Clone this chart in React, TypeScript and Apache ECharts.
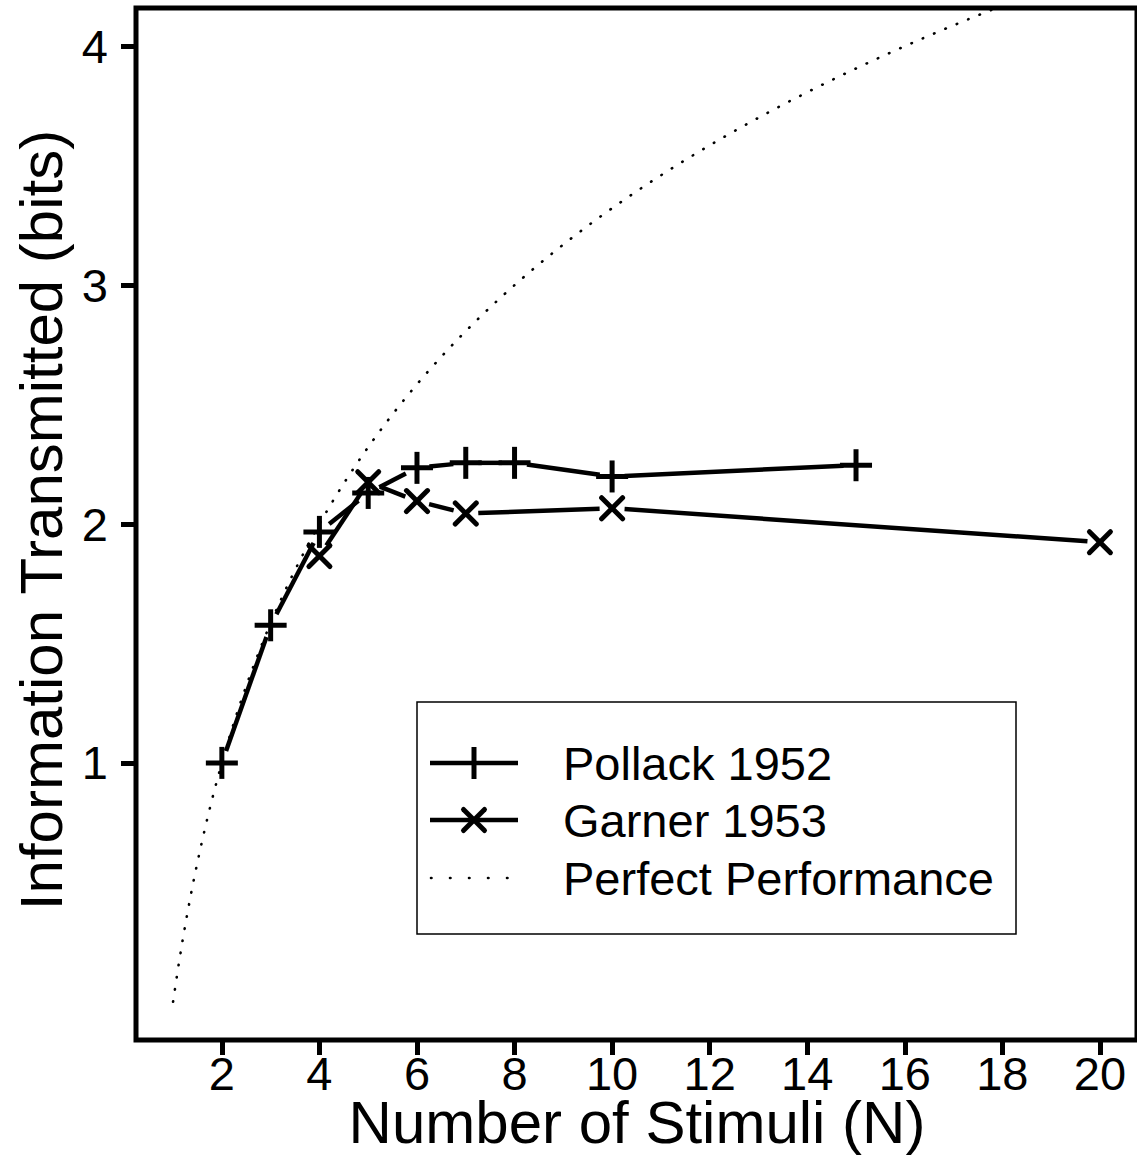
import React, { useEffect, useRef } from "react";
import * as echarts from "echarts";

// ---- Data ----
const N_POLLACK = [2, 3, 4, 5, 6, 7, 8, 10, 15];
const BITS_POLLACK = [1.0, 1.576, 1.967, 2.13, 2.235, 2.256, 2.256, 2.199, 2.246];
const N_GARNER = [4, 5, 6, 7, 10, 20];
const BITS_GARNER = [1.866, 2.175, 2.096, 2.044, 2.066, 1.924];
const X_TICKS = [2, 4, 6, 8, 10, 12, 14, 16, 18, 20];
const Y_TICKS = [1, 2, 3, 4];
// Perfect performance: log2(N), the theoretical reference curve, sampled on N from 1 to 20
const PERFECT_N = Array.from({ length: 191 }, (_, i) => 1 + i * 0.1);

const LEGEND_LABELS = ["Pollack 1952", "Garner 1953", "Perfect Performance"];

const FONT = "'Liberation Sans', Arial, Helvetica, sans-serif";
const GAP = 12.5;
const LW = 4.5;

function segments(xs: number[], ys: number[]) {
  const out: number[][] = [];
  for (let i = 0; i < xs.length - 1; i++) out.push([xs[i], ys[i], xs[i + 1], ys[i + 1]]);
  return out;
}

function segRender(params: any, api: any) {
  const p1 = api.coord([api.value(0), api.value(1)]);
  const p2 = api.coord([api.value(2), api.value(3)]);
  const dx = p2[0] - p1[0];
  const dy = p2[1] - p1[1];
  const L = Math.hypot(dx, dy);
  if (L <= 2 * GAP) return null;
  const ux = dx / L;
  const uy = dy / L;
  return {
    type: "line",
    shape: { x1: p1[0] + ux * GAP, y1: p1[1] + uy * GAP, x2: p2[0] - ux * GAP, y2: p2[1] - uy * GAP },
    style: { stroke: "#000", lineWidth: LW, lineCap: "butt" },
  };
}

function plusRender(params: any, api: any) {
  const p = api.coord([api.value(0), api.value(1)]);
  const h = 16;
  const st = { stroke: "#000", lineWidth: LW + 0.5, lineCap: "butt" };
  return {
    type: "group",
    children: [
      { type: "line", shape: { x1: p[0] - h, y1: p[1], x2: p[0] + h, y2: p[1] }, style: st },
      { type: "line", shape: { x1: p[0], y1: p[1] - h, x2: p[0], y2: p[1] + h }, style: st },
    ],
  };
}

function crossRender(params: any, api: any) {
  const p = api.coord([api.value(0), api.value(1)]);
  const h = 10.5;
  const st = { stroke: "#000", lineWidth: LW + 0.5, lineCap: "round" };
  return {
    type: "group",
    children: [
      { type: "line", shape: { x1: p[0] - h, y1: p[1] - h, x2: p[0] + h, y2: p[1] + h }, style: st },
      { type: "line", shape: { x1: p[0] - h, y1: p[1] + h, x2: p[0] + h, y2: p[1] - h }, style: st },
    ],
  };
}

export default function App() {
  const ref = useRef<HTMLDivElement>(null);

  useEffect(() => {
    document.body.style.margin = "0";
    if (!ref.current) return;
    const chart = echarts.init(ref.current, null, { renderer: "svg" });

    const legX0 = 417;
    const legY0 = 702;
    const rowY = [763, 820, 878];
    const symX1 = 430;
    const symX2 = 518;
    const symC = 474;
    const ls = { stroke: "#000", lineWidth: LW };

    const option: any = {
      animation: false,
      backgroundColor: "#fff",
      grid: {
        left: 136,
        top: 8,
        width: 1002,
        height: 1032,
        show: true,
        borderColor: "#000",
        borderWidth: 5,
        backgroundColor: "transparent",
      },
      xAxis: {
        type: "value",
        min: 0.24,
        max: 20.76,
        position: "bottom",
        axisLine: { show: false, onZero: false },
        splitLine: { show: false },
        axisTick: {
          show: true,
          customValues: X_TICKS,
          length: 15,
          lineStyle: { color: "#000", width: 5 },
        },
        axisLabel: {
          customValues: X_TICKS,
          fontSize: 47,
          color: "#000",
          fontFamily: FONT,
          margin: 10,
        },
      },
      yAxis: {
        type: "value",
        min: -0.16,
        max: 4.16,
        position: "left",
        axisLine: { show: false, onZero: false },
        splitLine: { show: false },
        axisTick: {
          show: true,
          customValues: Y_TICKS,
          length: 15,
          lineStyle: { color: "#000", width: 5 },
        },
        axisLabel: {
          customValues: Y_TICKS,
          fontSize: 47,
          color: "#000",
          fontFamily: FONT,
          margin: 28,
        },
      },
      series: [
        {
          name: "Perfect Performance",
          type: "line",
          data: PERFECT_N.map((n) => [n, Math.log2(n)]),
          showSymbol: false,
          symbol: "none",
          clip: true,
          lineStyle: { color: "#000", width: 2.6, type: [0.5, 11.8], cap: "round" },
          z: 1,
        },
        {
          name: "Pollack 1952 lines",
          type: "custom",
          data: segments(N_POLLACK, BITS_POLLACK),
          encode: { x: [0, 2], y: [1, 3] },
          renderItem: segRender,
          clip: true,
          z: 2,
        },
        {
          name: "Garner 1953 lines",
          type: "custom",
          data: segments(N_GARNER, BITS_GARNER),
          encode: { x: [0, 2], y: [1, 3] },
          renderItem: segRender,
          clip: true,
          z: 2,
        },
        {
          name: "Pollack 1952",
          type: "custom",
          data: N_POLLACK.map((n, i) => [n, BITS_POLLACK[i]]),
          encode: { x: 0, y: 1 },
          renderItem: plusRender,
          z: 3,
        },
        {
          name: "Garner 1953",
          type: "custom",
          data: N_GARNER.map((n, i) => [n, BITS_GARNER[i]]),
          encode: { x: 0, y: 1 },
          renderItem: crossRender,
          z: 3,
        },
      ],
      graphic: [
        {
          type: "text",
          x: 637,
          y: 1122,
          style: {
            text: "Number of Stimuli (N)",
            fontSize: 60,
            fontFamily: FONT,
            fill: "#000",
            align: "center",
            verticalAlign: "middle",
          },
        },
        {
          type: "text",
          x: 41,
          y: 520,
          rotation: Math.PI / 2,
          style: {
            text: "Information Transmitted (bits)",
            fontSize: 60,
            fontFamily: FONT,
            fill: "#000",
            align: "center",
            verticalAlign: "middle",
          },
        },
        {
          type: "rect",
          shape: { x: legX0, y: legY0, width: 599, height: 232 },
          style: { fill: "#fff", stroke: "#000", lineWidth: 1.5 },
          z: 10,
        },
        { type: "line", shape: { x1: symX1, y1: rowY[0], x2: symX2, y2: rowY[0] }, style: ls, z: 11 },
        { type: "line", shape: { x1: symC, y1: rowY[0] - 16, x2: symC, y2: rowY[0] + 16 }, style: { ...ls, lineWidth: LW + 0.5 }, z: 11 },
        { type: "line", shape: { x1: symX1, y1: rowY[1], x2: symX2, y2: rowY[1] }, style: ls, z: 11 },
        { type: "line", shape: { x1: symC - 10.5, y1: rowY[1] - 10.5, x2: symC + 10.5, y2: rowY[1] + 10.5 }, style: { ...ls, lineWidth: LW + 0.5, lineCap: "round" }, z: 11 },
        { type: "line", shape: { x1: symC - 10.5, y1: rowY[1] + 10.5, x2: symC + 10.5, y2: rowY[1] - 10.5 }, style: { ...ls, lineWidth: LW + 0.5, lineCap: "round" }, z: 11 },
        {
          type: "line",
          shape: { x1: 431, y1: rowY[2], x2: 510, y2: rowY[2] },
          style: { stroke: "#000", lineWidth: 2.6, lineDash: [0.5, 18.5], lineCap: "round" },
          z: 11,
        },
        ...LEGEND_LABELS.map((t, i) => ({
          type: "text",
          x: 563,
          y: rowY[i],
          z: 11,
          style: {
            text: t,
            fontSize: 47,
            fontFamily: FONT,
            fill: "#000",
            align: "left",
            verticalAlign: "middle",
          },
        })),
      ],
    };

    chart.setOption(option);
    return () => chart.dispose();
  }, []);

  return <div ref={ref} style={{ width: 1137, height: 1155, background: "#fff" }} />;
}
